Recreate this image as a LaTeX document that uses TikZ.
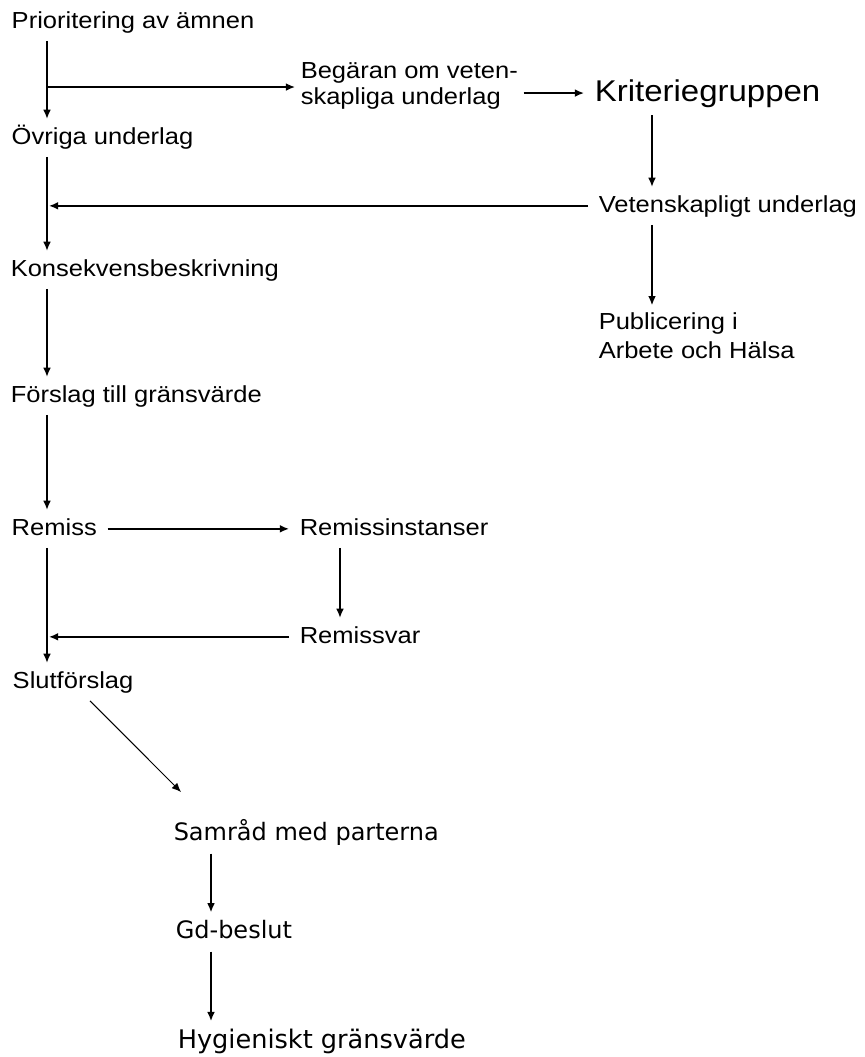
\documentclass[tikz,border=0pt]{standalone}
\usepackage{fontspec}
\newfontfamily\flowfont{Liberation Sans}[FakeStretch=1.1]
\newfontfamily\verdfont{DejaVu Sans}
\usetikzlibrary{arrows.meta}

\begin{document}
\begin{tikzpicture}[x=0.5pt, y=-0.5pt, line width=0.75pt,
  flow/.style={-{Latex[length=4.6pt,width=3.9pt]}},
  lbl/.style={anchor=base west, inner xsep=5pt, inner ysep=3.5pt, font=\flowfont\fontsize{11.6}{13}\selectfont, text height=8.7pt, text depth=2.55pt},
  twolines/.style={anchor=west, align=left, inner xsep=5pt, inner ysep=3.5pt, text height={}, text depth={}},
  low/.style={anchor=base west, inner xsep=5pt, inner ysep=3.5pt, font=\verdfont\fontsize{12}{14}\selectfont, text height=9pt, text depth=2.9pt}]%
\useasboundingbox (0,0) rectangle (864,1057);
\begin{scope}[every node/.style={lbl}]
\node (prio) at (1,28) {Prioritering av ämnen};
\node (ovr) at (1,144) {Övriga underlag};
\node[twolines, inner xsep=2.5pt, font=\flowfont\fontsize{11.6}{13}\selectfont] (beg) at (295,86) {Begäran om veten-\\skapliga underlag};
\node[font=\flowfont\fontsize{15}{17}\selectfont, text height=11.25pt, text depth=3.3pt] (krit) at (584,101) {Kriteriegruppen};
\node (vet) at (588,212) {Vetenskapligt underlag};
\node[twolines, font=\flowfont\fontsize{11.6}{14.5}\selectfont] (pub) at (588,336) {Publicering i\\Arbete och Hälsa};
\node (kons) at (0,276) {Konsekvensbeskrivning};
\node (forsl) at (0,402) {Förslag till gränsvärde};
\node (remiss) at (1,535) {Remiss};
\node (reminst) at (289,535) {Remissinstanser};
\node (remvar) at (289,643) {Remissvar};
\node (slut) at (2,688) {Slutförslag};
\end{scope}
\begin{scope}[every node/.style={low}]
\node (samr) at (163,840) {Samråd med parterna};
\node (gd) at (165,938) {Gd-beslut};
\node[font=\verdfont\fontsize{12.8}{15}\selectfont, text height=9.6pt, text depth=3.1pt] (hyg) at (167,1048) {Hygieniskt gränsvärde};
\end{scope}
% lines that the arrows run along
\coordinate (spine) at (47,0);
\coordinate (j1) at (47,87);
\coordinate (kx) at (652,0);
\coordinate (rx) at (340,0);
\coordinate (bx) at (211,0);
\coordinate (d1) at (90,0);
\coordinate (d2) at (181,792);
\begin{scope}[flow]
\draw (prio.south -| spine) -- (ovr.north -| spine);
\draw (j1) -- (beg.west |- j1);
\draw (beg.east |- krit.west) -- (krit.west);
\draw (krit.south -| kx) -- (vet.north -| kx);
\draw[shorten >=1pt] (vet.west) -- (vet.west -| spine);
\draw (vet.south -| kx) -- (pub.north -| kx);
\draw (ovr.south -| spine) -- (kons.north -| spine);
\draw (kons.south -| spine) -- (forsl.north -| spine);
\draw (forsl.south -| spine) -- (remiss.north -| spine);
\draw (remiss.east) -- (reminst.west);
\draw (reminst.south -| rx) -- (remvar.north -| rx);
\draw[shorten >=1pt] (remvar.west) -- (remvar.west -| spine);
\draw (remiss.south -| spine) -- (slut.north -| spine);
\draw[line width=0.5pt] (slut.south -| d1) -- (d2);
\draw (samr.south -| bx) -- (gd.north -| bx);
\draw (gd.south -| bx) -- (hyg.north -| bx);
\end{scope}
\end{tikzpicture}
\end{document}
